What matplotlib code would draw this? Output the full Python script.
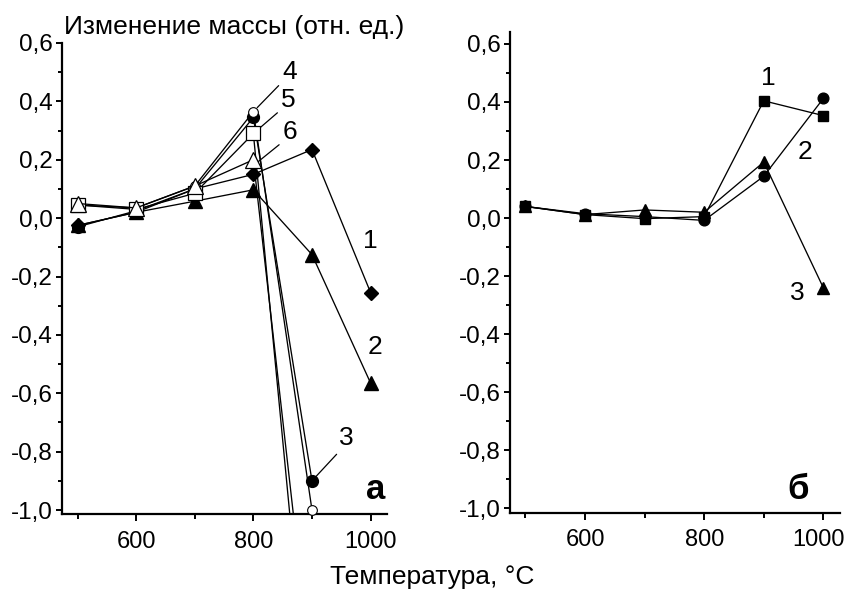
import matplotlib
matplotlib.use("Agg")
import matplotlib.pyplot as plt
from matplotlib.ticker import FixedLocator, FuncFormatter
from matplotlib.transforms import ScaledTranslation

plt.rcParams['font.family'] = ['Liberation Sans', 'DejaVu Sans']

# ---------------- data ----------------
temps = [500, 600, 700, 800, 900, 1000]

# panel а
a1 = [-0.025, 0.02, 0.10, 0.15, 0.235, -0.255]     # filled diamonds
a2 = [-0.025, 0.02, 0.058, 0.097, -0.125, -0.565]  # filled triangles
a3 = [-0.03, 0.025, 0.10, 0.345, -0.90]            # filled circles
a4 = [0.045, 0.035, 0.11, 0.365, -1.0]             # open circles
a5 = [0.045, 0.03, 0.085, 0.29, -1.81]             # open squares
a6 = [0.05, 0.035, 0.11, 0.20, -1.58]              # open triangles

# panel б
b1 = [0.04, 0.012, -0.002, 0.005, 0.404, 0.353]    # squares
b2 = [0.04, 0.015, 0.005, -0.008, 0.144, 0.412]    # circles
b3 = [0.04, 0.012, 0.028, 0.02, 0.193, -0.24]      # triangles

ytick_vals = [-1.0, -0.8, -0.6, -0.4, -0.2, 0.0, 0.2, 0.4, 0.6]
yminor_vals = [-0.9, -0.7, -0.5, -0.3, -0.1, 0.1, 0.3, 0.5]
xtick_vals = [600, 800, 1000]
xminor_vals = [500, 700, 900]

title_text = "Изменение массы (отн. ед.)"
xlabel_text = "Температура, °C"

# ---------------- figure ----------------
W, H = 846, 594
fig = plt.figure(figsize=(W / 100, H / 100), dpi=100)

ax1 = fig.add_axes([62.3 / W, (H - 514) / H, (387 - 62.3) / W, (514 - 43) / H])
ax2 = fig.add_axes([510 / W, (H - 512.7) / H, (840 - 510) / W, (512.7 - 32) / H])

def fmt(v, pos):
    s = f"{v:.1f}".replace('.', ',')
    if s == "-0,0":
        s = "0,0"
    return s

for ax in (ax1, ax2):
    ax.set_xlim(474, 1028)
    for sp in ('top', 'right'):
        ax.spines[sp].set_visible(False)
    for sp in ('left', 'bottom'):
        ax.spines[sp].set_linewidth(1.6)
    ax.xaxis.set_major_locator(FixedLocator(xtick_vals))
    ax.xaxis.set_minor_locator(FixedLocator(xminor_vals))
    ax.yaxis.set_major_locator(FixedLocator(ytick_vals))
    ax.yaxis.set_minor_locator(FixedLocator(yminor_vals))
    ax.yaxis.set_major_formatter(FuncFormatter(fmt))
    ax.tick_params(axis='x', which='major', direction='out', length=5, width=1.4,
                   pad=7, labelsize=17)
    ax.tick_params(axis='x', which='minor', direction='out', length=3.5, width=1.4)
    ax.tick_params(axis='y', which='major', direction='out', length=4.2, width=1.4,
                   pad=2.5, labelsize=17.5)
    ax.tick_params(axis='y', which='minor', direction='out', length=3, width=1.4)

ax1.set_ylim(-1.0137, 0.6)
ax2.set_ylim(-1.015, 0.641)

lw = 0.95
k = 'black'
ax1.plot(temps, a1, '-', color=k, lw=lw, marker='D', ms=6.8, mfc=k, mec=k, clip_on=False, zorder=3)
ax1.plot(temps, a2, '-', color=k, lw=lw, marker='^', ms=9.5, mfc=k, mec=k, clip_on=False, zorder=3)
ax1.plot(temps[:5], a3, '-', color=k, lw=lw, marker='o', ms=8.5, mfc=k, mec=k, clip_on=False, zorder=3)
ax1.plot(temps[:5], a4, '-', color=k, lw=lw, marker='o', ms=7, mfc='white', mec=k, mew=0.8,
         clip_on=False, zorder=4)
ax1.plot(temps[:5], a5, '-', color=k, lw=lw, marker='s', ms=9.5, mfc='white', mec=k, mew=0.9, zorder=4)
ax1.plot(temps[:5], a6, '-', color=k, lw=lw, marker='^', ms=11.5, mfc='white', mec=k, mew=0.9, zorder=4)

ax2.plot(temps, b1, '-', color=k, lw=lw, marker='s', ms=6.5, mfc=k, mec=k, clip_on=False, zorder=3)
ax2.plot(temps, b2, '-', color=k, lw=lw, marker='o', ms=7.7, mfc=k, mec=k, clip_on=False, zorder=3)
ax2.plot(temps, b3, '-', color=k, lw=lw, marker='^', ms=8.5, mfc=k, mec=k, clip_on=False, zorder=3)

lab = dict(fontsize=19, color=k)
arrow = dict(arrowstyle='-', color=k, lw=0.9, shrinkA=1, shrinkB=1)

# panel а labels
ax1.annotate("4", xy=(temps[3], a4[3]), xytext=(862, 0.50), ha='center', va='center',
             arrowprops=dict(arrow, relpos=(0.0, 0.1), shrinkB=4), annotation_clip=False, **lab)
ax1.annotate("5", xy=(temps[3], a5[3]), xytext=(860, 0.405), ha='center', va='center',
             arrowprops=dict(arrow, relpos=(0.0, 0.1), shrinkB=0), annotation_clip=False, **lab)
ax1.annotate("6", xy=(temps[3] + 3, a6[3] - 0.015), xytext=(863, 0.295), ha='center', va='center',
             arrowprops=dict(arrow, relpos=(0.0, 0.1), shrinkB=0), annotation_clip=False, **lab)
ax1.annotate("3", xy=(temps[4], a3[4]), xytext=(958, -0.755), ha='center', va='center',
             arrowprops=dict(arrow, relpos=(0.1, 0.0), shrinkB=4), annotation_clip=False, **lab)
ax1.text(999, -0.08, "1", ha='center', va='center', **lab)
ax1.text(1007, -0.44, "2", ha='center', va='center', **lab)
ax1.text(1009, -0.93, "а", ha='center', va='center', fontsize=25, fontweight='bold')

# panel б labels
ax2.text(908, 0.483, "1", ha='center', va='center', **lab)
ax2.text(969, 0.229, "2", ha='center', va='center', **lab)
ax2.text(957, -0.258, "3", ha='center', va='center', **lab)
ax2.text(958, -0.935, "б", ha='center', va='center', fontsize=25, fontweight='bold')

fig.text(64 / W, 1 - 34 / H, title_text, ha='left', va='baseline', fontsize=19)
fig.text(432 / W, 1 - 577 / H, xlabel_text, ha='center', va='center', fontsize=19)

# nudge the right-most tick label of panel б inward so it stays on the canvas
fig.canvas.draw()
last = ax2.get_xticklabels()[-1]
last.set_transform(last.get_transform() + ScaledTranslation(-5 / 100, 0, fig.dpi_scale_trans))

fig.savefig("out.png", dpi=100)
